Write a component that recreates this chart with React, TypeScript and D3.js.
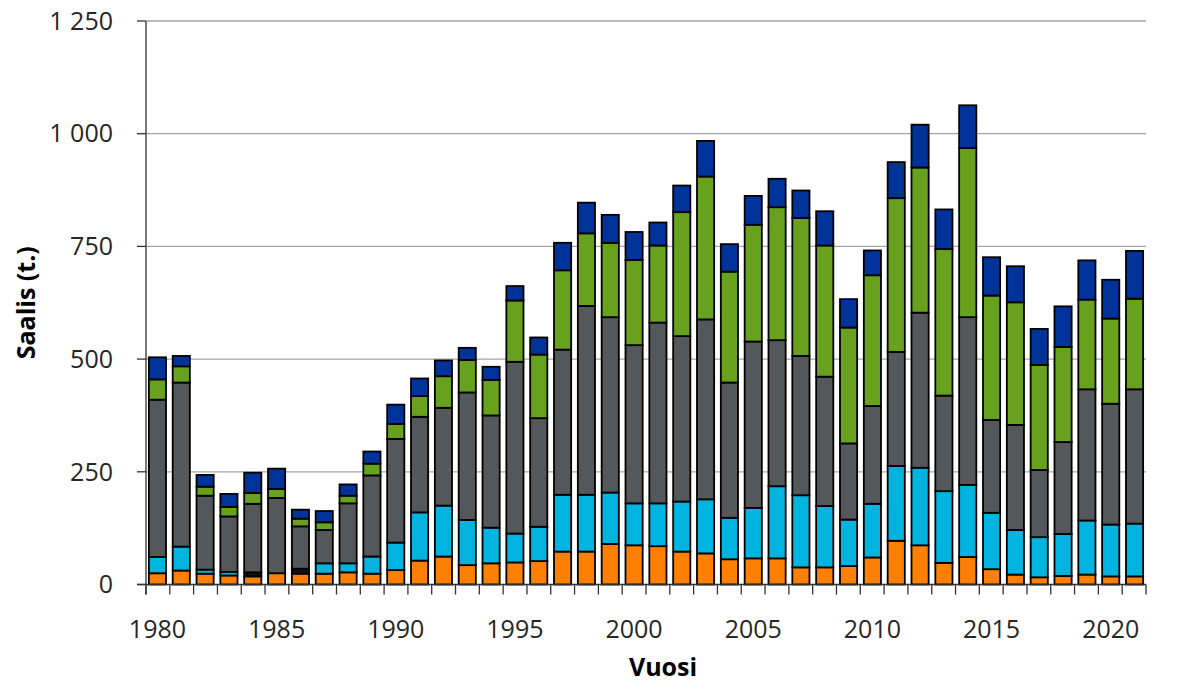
import React from "react";
import * as d3 from "d3";

const years: number[] = d3.range(1980, 2022);

const orange: number[] = [25, 31, 24, 20, 18, 25, 24, 24, 27, 24, 32, 53, 62, 43, 47, 49, 52, 73, 73, 90, 87, 85, 73, 69, 56, 58, 58, 38, 38, 41, 60, 97, 87, 48, 61, 34, 22, 16, 19, 22, 18, 18];
const cyan: number[] = [36, 53, 9, 8, 0, 0, 0, 23, 20, 38, 61, 107, 113, 100, 79, 64, 76, 126, 126, 114, 93, 95, 111, 120, 92, 112, 160, 160, 136, 103, 119, 166, 172, 159, 160, 125, 99, 89, 93, 120, 115, 117];
const other: number[] = [0, 0, 0, 0, 9, 0, 11, 0, 0, 0, 0, 0, 0, 0, 0, 0, 0, 0, 0, 0, 0, 0, 0, 0, 0, 0, 0, 0, 0, 0, 0, 0, 0, 0, 0, 0, 0, 0, 0, 0, 0, 0];
const gray: number[] = [349, 364, 164, 123, 152, 167, 94, 74, 133, 180, 230, 212, 217, 283, 249, 381, 241, 322, 419, 389, 351, 401, 367, 399, 300, 369, 324, 309, 287, 169, 217, 253, 344, 212, 372, 206, 233, 149, 204, 291, 268, 298];
const green: number[] = [45, 36, 20, 21, 24, 20, 17, 17, 17, 26, 33, 46, 70, 72, 79, 136, 141, 176, 161, 165, 189, 171, 275, 317, 246, 259, 295, 306, 291, 257, 290, 341, 322, 325, 375, 276, 272, 233, 211, 199, 189, 201];
const navy: number[] = [49, 23, 26, 29, 45, 45, 20, 25, 25, 27, 43, 39, 35, 27, 29, 32, 38, 61, 68, 62, 62, 51, 59, 79, 61, 64, 63, 61, 76, 63, 55, 80, 95, 88, 95, 85, 80, 80, 90, 87, 86, 106];

const yTicks: number[] = [0, 250, 500, 750, 1000, 1250];
const xLabelYears: number[] = [1980, 1985, 1990, 1995, 2000, 2005, 2010, 2015, 2020];

const seriesKeys = ["orange", "cyan", "other", "gray", "green", "navy"];
const seriesColors: Record<string, string> = {
  orange: "#FF8000",
  cyan: "#00B4DF",
  other: "#111111",
  gray: "#54585A",
  green: "#67A11E",
  navy: "#00339A",
};

const rows = years.map((y, i) => ({
  year: y,
  orange: orange[i],
  cyan: cyan[i],
  other: other[i],
  gray: gray[i],
  green: green[i],
  navy: navy[i],
}));

const fiFormat = d3.formatLocale({
  decimal: ",",
  thousands: " ",
  grouping: [3],
  currency: ["", ""],
}).format(",");

export default function App() {
  const W = 1201;
  const H = 684;
  const left = 146;
  const right = 1146;
  const top = 21;
  const bottom = 584.5;

  const x = d3
    .scaleBand<number>()
    .domain(years)
    .range([left, right])
    .paddingInner(0.28)
    .paddingOuter(0.12);
  const step = (right - left) / years.length;
  const y = d3.scaleLinear().domain([0, 1250]).range([bottom, top]);

  const stack = d3.stack<any>().keys(seriesKeys);
  const stacked = stack(rows);

  const font = "'Open Sans', 'Noto Sans', sans-serif";

  return (
    <svg
      width={W}
      height={H}
      style={{ position: "absolute", left: 0, top: 0, background: "#fff" }}
    >
      {/* gridlines */}
      {yTicks.map((t) =>
        t === 0 ? null : (
          <line
            key={"g" + t}
            x1={left}
            x2={right}
            y1={y(t)}
            y2={y(t)}
            stroke="#A6A6A6"
            strokeWidth={1.3}
          />
        )
      )}
      {/* bars */}
      {stacked.map((layer) => (
        <g key={layer.key} fill={seriesColors[layer.key]}>
          {layer.map((d: any, i: number) => {
            const h = y(d[0]) - y(d[1]);
            if (h <= 0) return null;
            return (
              <rect
                key={i}
                x={x(d.data.year)!}
                y={y(d[1])}
                width={x.bandwidth()}
                height={h}
                stroke="#000"
                strokeWidth={1.8}
              />
            );
          })}
        </g>
      ))}
      {/* y axis */}
      <line x1={left} x2={left} y1={top} y2={bottom + 10} stroke="#333" strokeWidth={1.3} />
      {yTicks.map((t) => (
        <g key={"yt" + t}>
          <line x1={left - 9} x2={left} y1={y(t)} y2={y(t)} stroke="#333" strokeWidth={1.3} />
          <text
            x={113}
            y={y(t)}
            dy="0.35em"
            textAnchor="end"
            fontFamily={font}
            fontSize={25}
            fill="#262626"
          >
            {fiFormat(t)}
          </text>
        </g>
      ))}
      {/* x axis */}
      <line x1={left - 9} x2={right} y1={bottom} y2={bottom} stroke="#333" strokeWidth={1.3} />
      {d3.range(years.length + 1).map((i) => (
        <line
          key={"xt" + i}
          x1={left + i * step}
          x2={left + i * step}
          y1={bottom}
          y2={bottom + 10}
          stroke="#333"
          strokeWidth={1.3}
        />
      ))}
      {xLabelYears.map((yr) => (
        <text
          key={"xl" + yr}
          x={x(yr)! + x.bandwidth() / 2}
          y={638}
          textAnchor="middle"
          fontFamily={font}
          fontSize={25}
          fill="#262626"
        >
          {yr}
        </text>
      ))}
      <text
        x={663}
        y={676}
        textAnchor="middle"
        fontFamily={font}
        fontSize={25}
        fontWeight="bold"
        fill="#000"
      >
        Vuosi
      </text>
      <text
        transform={`translate(35, ${(top + bottom) / 2}) rotate(-90)`}
        textAnchor="middle"
        fontFamily={font}
        fontSize={25}
        fontWeight="bold"
        fill="#000"
      >
        Saalis (t.)
      </text>
    </svg>
  );
}
